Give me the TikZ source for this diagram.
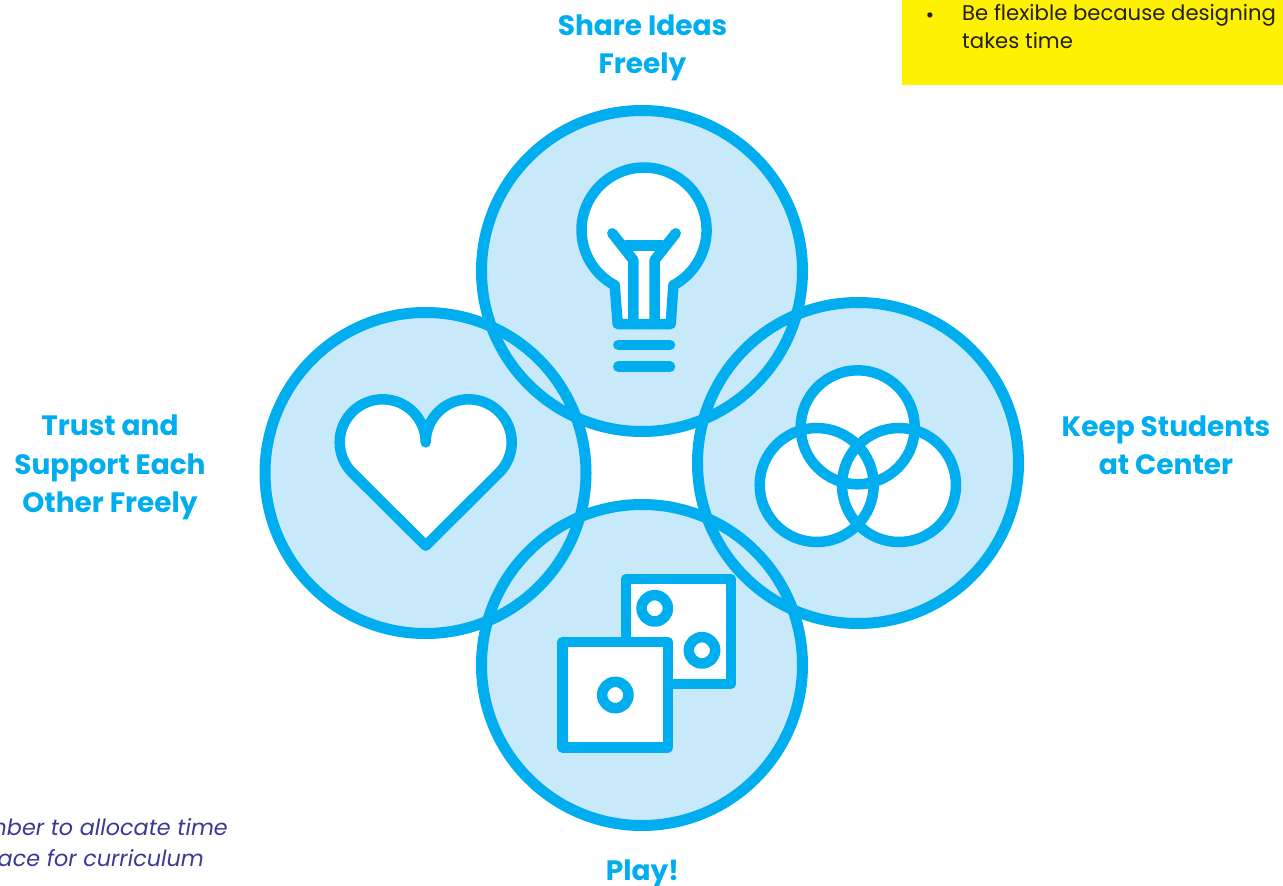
\documentclass[tikz,border=0pt]{standalone}
\usepackage{fontspec}
\setmainfont{Poppins}
\definecolor{ringblue}{HTML}{00AEEF}
\definecolor{paleblue}{HTML}{C7E9FA}
\definecolor{noteyellow}{HTML}{FFF200}
\definecolor{noteink}{HTML}{231F20}
\definecolor{asideblue}{HTML}{3A3A94}
\tikzset{
  ring/.style={draw=ringblue, line width=10.5pt},
  bigring/.style={draw=ringblue, line width=11pt},
  icon/.style={draw=ringblue, fill=white, line width=10.5pt, line join=round, line cap=round},
  capt/.style={text=ringblue, align=center, inner sep=0pt, font=\fontsize{28}{38.3}\selectfont\bfseries},
  note/.style={text=noteink, inner sep=0pt, font=\fontsize{21.2}{28}\selectfont},
  aside/.style={text=asideblue, inner sep=0pt, anchor=base east, font=\fontsize{22.3}{28}\selectfont\itshape}
}
\begin{document}
\begin{tikzpicture}[x=1pt, y=-1pt]

\useasboundingbox (0,0) rectangle (1283,886);

\fill[noteyellow] (902,0) rectangle (1283,85);
\node[note, anchor=base] (dot) at (930,23) {•};
\node[note, anchor=north west, align=left] (flex) at (962,4.5) {Be flexible because designing\\takes time};

\foreach \cx/\cy in {642/271, 425.5/473, 858/463, 642/665}
  \fill[paleblue] (\cx,\cy) circle [radius=160.5pt];
\foreach \cx/\cy in {642/271, 425.5/473, 858/463, 642/665}
  \draw[bigring] (\cx,\cy) circle [radius=160.5pt];

\draw[icon] (614.7,285.2) arc [start angle=242, end angle=-62, radius=62.5pt] -- (670.7,324) -- (617.7,324) -- cycle;
\draw[icon, fill=none] (612.3,233.3) -- (633.3,260) -- (633.3,324);
\draw[icon, fill=none] (675.7,233.3) -- (654.7,260) -- (654.7,324);
\draw[icon, fill=none, line cap=butt] (625,245.7) -- (663.3,245.7);
\draw[icon] (618.3,345) -- (670,345);
\draw[icon] (618.3,366.7) -- (670,366.7);

\draw[icon] (425.7,442.3) arc [start angle=0, end angle=225, radius=43pt] -- (425.7,545.7) -- (499.1,472.7) arc [start angle=-45, end angle=180, radius=43pt];

\foreach \cx/\cy in {857.7/427.3, 816.7/485, 899/485}
  \fill[white] (\cx,\cy) circle [radius=57pt];
\foreach \cx/\cy in {857.7/427.3, 816.7/485, 899/485}
  \draw[ring] (\cx,\cy) circle [radius=57pt];

\draw[icon] (626,579) rectangle (731,684);
\draw[icon] (654.7,608.3) circle [radius=13.2pt];
\draw[icon] (702,650.3) circle [radius=13.2pt];
\draw[icon] (562.5,642) rectangle (668,747.5);
\draw[icon] (615.3,695) circle [radius=13.2pt];

\node[capt] (share) at (642.5,47.5) {Share Ideas\\Freely};
\node[capt] (trust) at (110,467.5) {Trust and\\Support Each\\Other Freely};
\node[capt] (keep) at (1166,445) {Keep Students\\at Center};
\node[capt] (play) at (642.5,874) {Play!};

\node[aside] (alloc) at (228,835) {nber to allocate time};
\node[aside] (space) at (204,866) {ace for curriculum};

\end{tikzpicture}
\end{document}
